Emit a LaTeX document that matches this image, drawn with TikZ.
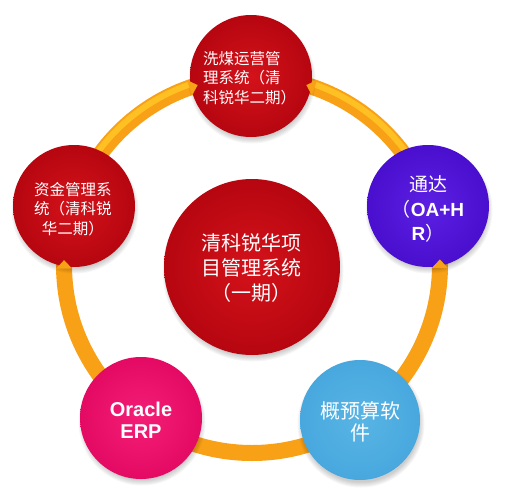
\documentclass[tikz,border=0pt]{standalone}
\usepackage{fontspec}
\setmainfont{Liberation Sans}
\newfontfamily\cjk{Noto Sans CJK SC}
\definecolor{ringc}{RGB}{248,160,22}
\definecolor{ringl}{RGB}{255,192,36}
\definecolor{redin}{RGB}{212,18,26}
\definecolor{redout}{RGB}{182,6,16}
\definecolor{purin}{RGB}{92,32,228}
\definecolor{purout}{RGB}{74,14,206}
\definecolor{pinkin}{RGB}{244,30,118}
\definecolor{pinkout}{RGB}{228,10,100}
\definecolor{bluein}{RGB}{88,180,228}
\definecolor{blueout}{RGB}{72,168,222}
\tikzset{
  ball/.style={circle, minimum size=#1, inner sep=0pt},
  redball/.style={ball=122pt, shading=radial, inner color=redin, outer color=redout},
  lbl/.style={text=white, inner sep=0pt},
  cjkred/.style={lbl, font=\cjk\fontsize{15.5}{19.5}\selectfont},
  tipfill/.style={fill=ringc},
}
\newcommand{\softshadow}[3]{%
  \foreach \k in {0,...,5}{\fill[black, opacity=0.035] (#1+1,#2+4) circle ({#3+2.5-\k});}}
% ring tip: base angle, apex angle
\newcommand{\ringtip}[2]{%
  \fill[tipfill] ([shift={(#1:180)}]rc) -- ([shift={(#2:188)}]rc) -- ([shift={(#1:196)}]rc) -- cycle;}
\begin{document}
\begin{tikzpicture}[x=1pt,y=-1pt]
\useasboundingbox (0,0) rectangle (506,501);
% ring
\coordinate (rc) at (252,265);
\draw[ringc, line width=16pt] (rc) circle (188);
\draw[ringl, line width=6pt] ([shift={(200:191)}]rc) arc (200:342:191);
% shadows
\softshadow{251}{76}{61}
\softshadow{74}{206}{61}
\softshadow{428}{206}{61}
\softshadow{141}{418}{61}
\softshadow{360}{420}{61}
\softshadow{252}{267}{88}
% circles
\node[redball] (top) at (251,76) {};
\node[redball] (left) at (74,206) {};
\node[redball, minimum size=176pt] (mid) at (252,267) {};
\node[ball=122pt, shading=radial, inner color=purin, outer color=purout] (right) at (428,206) {};
\node[ball=122pt, shading=radial, inner color=pinkin, outer color=pinkout] (erp) at (141,418) {};
\node[ball=120pt, shading=radial, inner color=bluein, outer color=blueout] (gys) at (360,420) {};
% ring tips into circles
\ringtip{250.6}{253.2}
\ringtip{289.4}{286.8}
\ringtip{0.9}{-1.7}
\ringtip{178.9}{181.5}
% texts
\node[cjkred, align=left, anchor=west] (ttop) at (203,78) {洗煤运营管\\理系统（清\\科锐华二期）};
\node[cjkred, align=center] (tleft) at (73,209) {资金管理系\\统（清科锐\\华二期）};
\node[lbl, align=center, font=\cjk\fontsize{20}{25}\selectfont] (tmid) at (251,268) {清科锐华项\\目管理系统\\（一期）};
\node[lbl, align=center, font=\fontsize{19}{24.5}\selectfont] (tright) at (428,209) {{\cjk 通达}\\{\cjk （}\textbf{OA+H}\\\textbf{R}{\cjk ）}};
\node[lbl, align=center, font=\bfseries\fontsize{20}{22}\selectfont] (terp) at (141,420) {Oracle\\ERP};
\node[lbl, align=center, font=\cjk\fontsize{20}{22}\selectfont] (tgys) at (360,422) {概预算软\\件};
\end{tikzpicture}
\end{document}
